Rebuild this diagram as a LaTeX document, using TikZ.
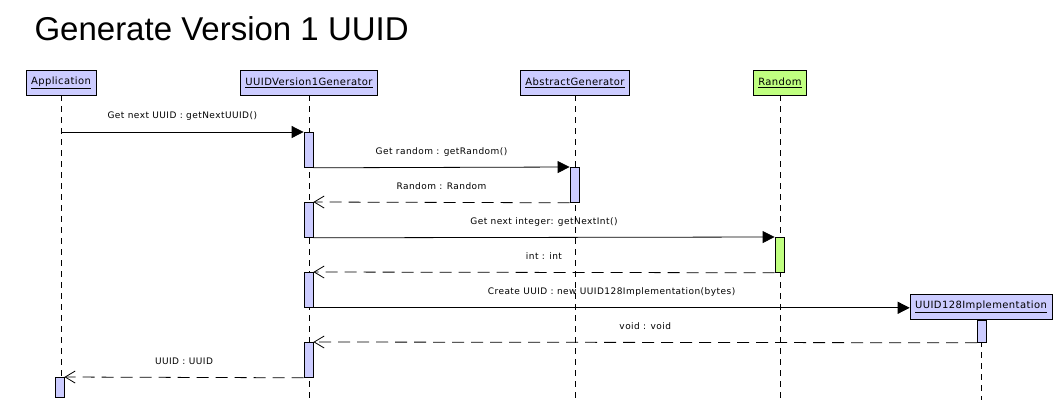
\documentclass[tikz,border=0pt]{standalone}
\usepackage{fontspec}
\setmainfont{DejaVu Sans}
\newfontfamily\msgfont[LetterSpace=5]{DejaVu Sans}
\newfontfamily\headfont[LetterSpace=4]{DejaVu Sans}
\newfontfamily\titlefont{Liberation Sans}
\usepackage{tikz}
\usepackage{xcolor}
\usetikzlibrary{arrows.meta,positioning}
\definecolor{headblue}{RGB}{204,204,255}
\definecolor{headgreen}{RGB}{192,255,128}

\begin{document}
\begin{tikzpicture}[x=1pt,y=-1pt,
head/.style={draw,line width=0.8pt,fill=headblue,minimum height=25pt,inner xsep=5pt,font=\headfont\fontsize{10}{12}\selectfont},
act/.style={draw,line width=0.8pt,fill=headblue,minimum width=9pt,minimum height=35pt,inner sep=0pt,anchor=north},
lifeline/.style={line width=0.7pt,dash pattern=on 6pt off 5pt},
call/.style={-{Triangle[length=12pt,width=12pt]},line width=0.8pt},
reply/.style={-{Straight Barb[length=10pt,width=12pt]},line width=0.8pt,dash pattern=on 12pt off 7pt},
msg/.style={midway,above=11pt,inner sep=0pt,text height=7pt,text depth=2pt,font=\msgfont\fontsize{9}{11}\selectfont}
]
\useasboundingbox (0,0) rectangle (1064,408);
\node[anchor=base west,font=\titlefont\fontsize{33}{40}\selectfont] (title) at (31,40) {Generate Version 1 UUID};

\node[head] (app) at (61,82.5) {\underline{Application}};
\node[head] (gen) at (309,82.5) {\underline{UUIDVersion1Generator}};
\node[head] (abs) at (575,82.5) {\underline{AbstractGenerator}};
\node[head,fill=headgreen] (rnd) at (780,82.5) {\underline{Random}};
\node[head] (impl) at (981,306.5) {\underline{UUID128Implementation}};

\draw[lifeline] (app.south) -- ++(0,305);
\draw[lifeline] (gen.south) -- ++(0,305);
\draw[lifeline] (abs.south) -- ++(0,305);
\draw[lifeline] (rnd.south) -- ++(0,305);
\draw[lifeline] (impl.south) -- ++(0,81);

\node[act] (g1) at (308.5,132) {};
\node[act] (a1) at (574.5,167) {};
\node[act] (g2) at (308.5,202) {};
\node[act,fill=headgreen] (r1) at (779.5,237) {};
\node[act] (g3) at (308.5,272) {};
\node[act,minimum height=22pt] (i1) at (982,320) {};
\node[act] (g4) at (308.5,342) {};
\node[act,minimum height=20pt] (p1) at (59.5,377) {};

\draw[call] (g1.north west -| app) -- (g1.north west) node[msg] {Get next UUID : getNextUUID()};
\draw[call] (g1.south east) -- (a1.north west) node[msg] {Get random : getRandom()};
\draw[reply] (a1.south west) -- (g2.north east) node[msg] {Random : Random};
\draw[call] (g2.south east) -- (r1.north west) node[msg] {Get next integer: getNextInt()};
\draw[reply] (r1.south west) -- (g3.north east) node[msg] {int : int};
\draw[call] (g3.south east) -- (g3.south east -| impl.west) node[msg] {Create UUID : new UUID128Implementation(bytes)};
\draw[reply] (i1.south west) -- (g4.north east) node[msg] {void : void};
\draw[reply] (g4.south west) -- (p1.north east) node[msg] {UUID : UUID};
\end{tikzpicture}
\end{document}
